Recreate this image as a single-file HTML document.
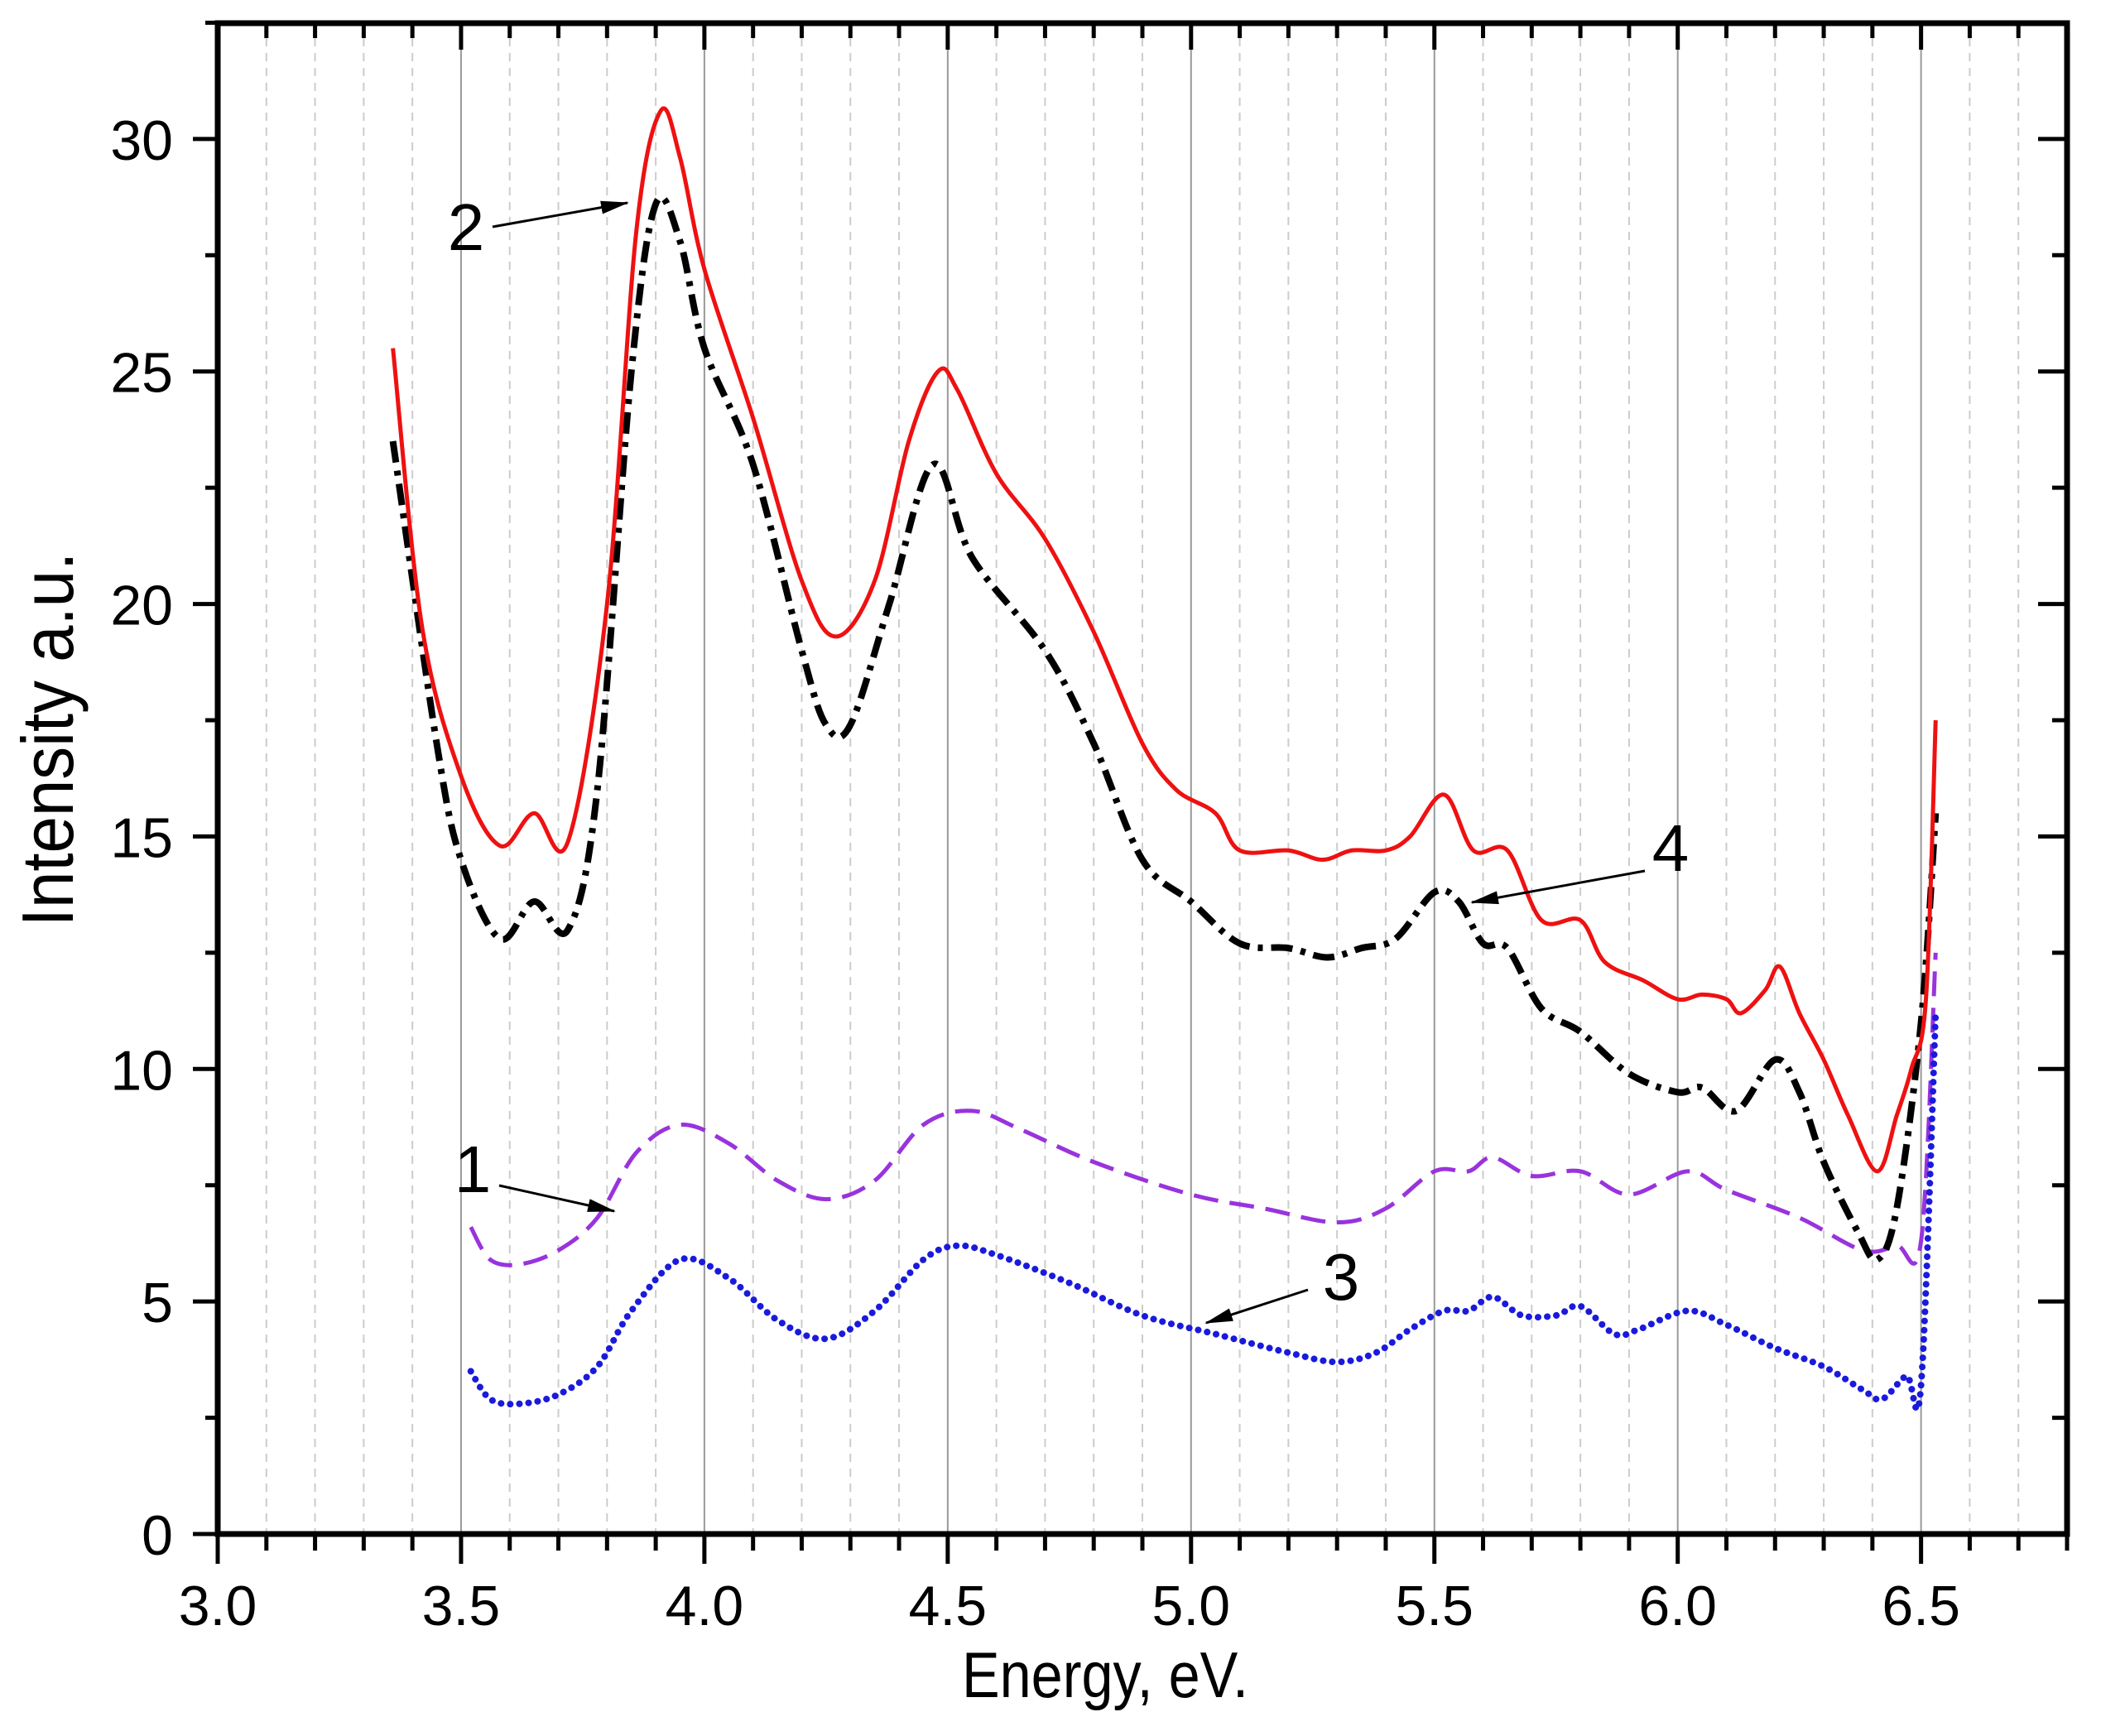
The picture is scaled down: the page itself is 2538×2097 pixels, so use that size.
<!DOCTYPE html>
<html><head><meta charset="utf-8"><style>
html,body{margin:0;padding:0;background:#fff;}
svg{display:block;font-family:"Liberation Sans",Arial,sans-serif;}
</style></head><body>
<svg id="chart" width="2538" height="2097" viewBox="0 0 2538 2097">
<defs><marker id="ah" markerWidth="34" markerHeight="16" refX="32" refY="8" orient="auto" markerUnits="userSpaceOnUse" viewBox="0 0 34 16"><path d="M0,0 L34,8 L0,16 z" fill="#000"/></marker></defs>
<g id="grid"></g>
<g id="series"></g>
<g id="axes"></g>
<g id="annot"></g>
<text transform="translate(1335,2050) scale(0.95,1.08)" font-size="72" text-anchor="middle">Energy, eV.</text>
<text transform="translate(88,893) rotate(-90) scale(0.95,1.05)" font-size="84" text-anchor="middle">Intensity a.u.</text>
</svg>
<script>
const xTicks=[3.0,3.5,4.0,4.5,5.0,5.5,6.0,6.5];
const xTickLabels=["3.0","3.5","4.0","4.5","5.0","5.5","6.0","6.5"];
const yTicks=[0,5,10,15,20,25,30];
const yTickLabels=["0","5","10","15","20","25","30"];
const redX=[3.36,3.42,3.5,3.58,3.65,3.72,3.8,3.86,3.91,3.95,4.0,4.1,4.2,4.27,4.35,4.42,4.48,4.52,4.6,4.7,4.8,4.9,4.97,5.05,5.1,5.2,5.27,5.33,5.4,5.45,5.52,5.58,5.65,5.72,5.8,5.85,5.93,6.0,6.05,6.1,6.13,6.18,6.21,6.25,6.3,6.35,6.41,6.45,6.48,6.51,6.53];
const redY=[25.5,19.5,16.3,14.8,15.5,14.9,20,28,30.6,29.6,27.2,24,20.5,19.3,20.5,23.5,25,24.6,22.8,21.4,19.4,17,16,15.5,14.7,14.7,14.5,14.7,14.7,15,15.9,14.7,14.7,13.2,13.2,12.3,11.9,11.5,11.6,11.5,11.2,11.7,12.2,11.2,10.2,9,7.8,9,10,11.5,17.5];
const blackX=[3.36,3.45,3.5,3.58,3.65,3.72,3.78,3.85,3.9,3.95,4.0,4.1,4.2,4.25,4.3,4.38,4.47,4.55,4.7,4.8,4.9,5.0,5.1,5.2,5.28,5.35,5.42,5.5,5.55,5.6,5.65,5.72,5.8,5.9,6.0,6.05,6.12,6.2,6.25,6.3,6.37,6.41,6.45,6.5,6.53];
const blackY=[23.5,17,14.5,12.8,13.6,13,16,25,28.6,27.8,25.5,23,19,17.4,17.4,20,23,21,19,17,14.5,13.6,12.7,12.6,12.4,12.6,12.8,13.8,13.6,12.7,12.6,11.3,10.8,9.9,9.5,9.6,9.1,10.2,9.5,8,6.5,5.9,7,11,15.5];
const purpleX=[3.52,3.56,3.62,3.7,3.78,3.86,3.95,4.05,4.15,4.25,4.35,4.45,4.55,4.65,4.8,5.0,5.15,5.3,5.4,5.5,5.57,5.62,5.7,5.8,5.9,6.02,6.1,6.25,6.38,6.45,6.5,6.53];
const purpleY=[6.6,5.9,5.8,6.1,6.8,8.2,8.8,8.4,7.6,7.2,7.6,8.8,9.1,8.7,8.0,7.3,7.0,6.7,7.0,7.8,7.8,8.1,7.7,7.8,7.3,7.8,7.4,6.8,6.1,6.2,6.3,12.5];
const blueX=[3.52,3.56,3.62,3.7,3.78,3.85,3.95,4.05,4.15,4.25,4.35,4.45,4.52,4.6,4.75,4.9,5.05,5.2,5.3,5.38,5.45,5.52,5.57,5.62,5.68,5.75,5.8,5.87,5.92,6.02,6.1,6.2,6.3,6.38,6.42,6.47,6.5,6.53];
const blueY=[3.5,2.9,2.8,3.0,3.6,4.8,5.9,5.5,4.6,4.2,4.8,5.9,6.2,6.0,5.4,4.7,4.3,3.9,3.7,3.9,4.4,4.8,4.8,5.1,4.7,4.7,4.9,4.3,4.4,4.8,4.5,4.0,3.6,3.1,2.9,3.4,3.2,11.2];

const NS="http://www.w3.org/2000/svg";
const X0=263,X1=2497,Y0=1853,YT=28;
const xMin=3.0,xMax=6.8,yMin=0,yMax=32.49;
const sx=v=>X0+(v-xMin)/(xMax-xMin)*(X1-X0);
const sy=v=>Y0-(v-yMin)/(yMax-yMin)*(Y0-YT);
function mk(tag,attrs,parent){const e=document.createElementNS(NS,tag);for(const k in attrs)e.setAttribute(k,attrs[k]);parent.appendChild(e);return e;}
const grid=document.getElementById('grid'),axes=document.getElementById('axes'),ser=document.getElementById('series'),ann=document.getElementById('annot');
for(let i=31;i<=67;i++){const v=i/10;let l;if(i%5===0){l=mk('line',{x1:sx(v),x2:sx(v),y1:YT,y2:Y0,stroke:'#999','stroke-width':2},grid);}else{l=mk('line',{x1:sx(v),x2:sx(v),y1:YT,y2:Y0,stroke:'#ccc','stroke-width':2,'stroke-dasharray':'10 8'},grid);}

}
function smooth(xs,ys){let p=xs.map((x,i)=>[sx(x),sy(ys[i])]);let d='M'+p[0][0]+','+p[0][1];for(let i=0;i<p.length-1;i++){const a=p[i-1]||p[i],b=p[i],c=p[i+1],e=p[i+2]||c;const c1=[b[0]+(c[0]-a[0])/6,b[1]+(c[1]-a[1])/6],c2=[c[0]-(e[0]-b[0])/6,c[1]-(e[1]-b[1])/6];d+=' C'+c1[0]+','+c1[1]+' '+c2[0]+','+c2[1]+' '+c[0]+','+c[1];}return d;}
let s;
s=mk('path',{d:smooth(purpleX,purpleY),fill:'none',stroke:'#9933dd','stroke-width':5,'stroke-dasharray':'30 14'},ser);


s=mk('path',{d:smooth(blueX,blueY),fill:'none',stroke:'#1a1adc','stroke-width':8,'stroke-dasharray':'0.1 11','stroke-linecap':'round'},ser);


s=mk('path',{d:smooth(blackX,blackY),fill:'none',stroke:'#000','stroke-width':8,'stroke-dasharray':'26 10 6 10'},ser);


s=mk('path',{d:smooth(redX,redY),fill:'none',stroke:'#ee1111','stroke-width':5},ser);


mk('rect',{x:X0,y:YT,width:X1-X0,height:Y0-YT,fill:'none',stroke:'#000','stroke-width':7},axes);
for(let i=30;i<=68;i++){const v=i/10,maj=i%5===0,x=sx(v);mk('line',{x1:x,x2:x,y1:Y0,y2:Y0+(maj?36:20),stroke:'#000','stroke-width':5},axes);mk('line',{x1:x,x2:x,y1:YT,y2:YT+(maj?32:18),stroke:'#000','stroke-width':5},axes);}
for(let i=0;i<=13;i++){const v=i*2.5,maj=i%2===0,y=sy(v);mk('line',{x1:X0,x2:X0-(maj?30:15),y1:y,y2:y,stroke:'#000','stroke-width':5},axes);mk('line',{x1:X1,x2:X1-(maj?35:18),y1:y,y2:y,stroke:'#000','stroke-width':5},axes);}
xTicks.forEach((v,i)=>{const t=mk('text',{x:sx(v),y:1963,'font-size':68,'text-anchor':'middle'},axes);t.textContent=xTickLabels[i];

});
yTicks.forEach((v,i)=>{const t=mk('text',{x:209,y:sy(v)+25,'font-size':68,'text-anchor':'end'},axes);t.textContent=yTickLabels[i];

});
const anns=[["2",563,302,595,274,758,245],["1",571,1440,603,1432,742,1463],["3",1620,1570,1580,1558,1457,1598],["4",2018,1052,1987,1052,1778,1090]];
anns.forEach(a=>{const t=mk('text',{x:a[1],y:a[2],'font-size':80,'text-anchor':'middle'},ann);t.textContent=a[0];


const l=mk('line',{x1:a[3],y1:a[4],x2:a[5],y2:a[6],stroke:'#000','stroke-width':3,'marker-end':'url(#ah)'},ann);

});
</script>
</body></html>
